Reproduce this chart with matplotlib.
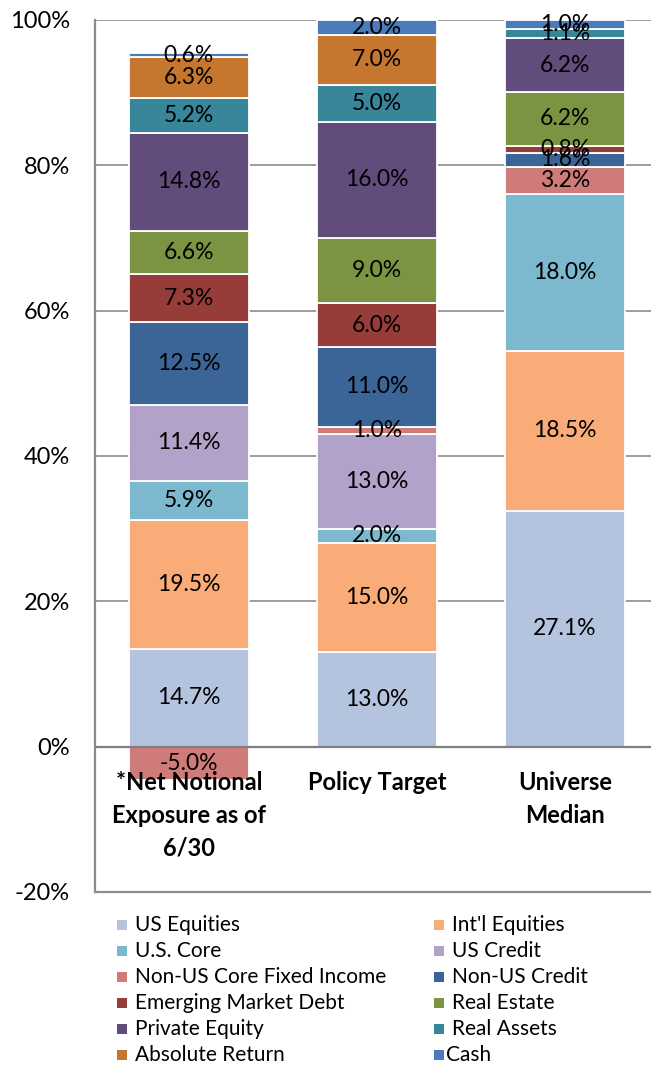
import matplotlib
matplotlib.use("Agg")
import matplotlib.pyplot as plt
from matplotlib.patches import Rectangle
from matplotlib.ticker import FuncFormatter

plt.rcParams['font.family'] = ['Lato', 'DejaVu Sans']

categories = ["*Net Notional\nExposure as of\n6/30", "Policy Target", "Universe\nMedian"]
series = ["US Equities", "Int'l Equities", "U.S. Core", "US Credit",
          "Non-US Core Fixed Income", "Non-US Credit", "Emerging Market Debt",
          "Real Estate", "Private Equity", "Real Assets", "Absolute Return", "Cash"]
colors = ["#B4C4DF", "#F9AB78", "#7CB9CF", "#B2A2C9", "#CF7B79", "#3C6597",
          "#963D3A", "#7A9442", "#624C7C", "#37869A", "#C5772F", "#4B7BBB"]

# labels shown on the chart (reported values, %)
net_labels = [14.7, 19.5, 5.9, 11.4, -5.0, 12.5, 7.3, 6.6, 14.8, 5.2, 6.3, 0.6]
policy_labels = [13.0, 15.0, 2.0, 13.0, 1.0, 11.0, 6.0, 9.0, 16.0, 5.0, 7.0, 2.0]
universe_labels = [27.1, 18.5, 18.0, 0.0, 3.2, 1.6, 0.8, 6.2, 6.2, 1.1, 0.0, 1.0]

# drawn segment heights (%)
net_heights = [13.4, 17.8, 5.4, 10.4, -4.6, 11.4, 6.6, 6.0, 13.5, 4.7, 5.7, 0.5]
policy_heights = [13.0, 15.0, 2.0, 13.0, 1.0, 11.0, 6.0, 9.0, 16.0, 5.0, 7.0, 2.0]
universe_heights = [32.4, 22.1, 21.5, 0.0, 3.8, 1.9, 1.0, 7.4, 7.4, 1.3, 0.0, 1.2]

y_ticks = [-20, 0, 20, 40, 60, 80, 100]

heights = [net_heights, policy_heights, universe_heights]
labels = [net_labels, policy_labels, universe_labels]

fig = plt.figure(figsize=(6.51, 10.67), dpi=100)
ax = fig.add_axes([95/651, 175/1067, 564/651, 872/1067])
ax.set_xlim(-0.5, 2.5)
ax.set_ylim(-20, 100)

bar_w = 0.64
for bi in range(len(categories)):
    pos_base = 0.0
    neg_base = 0.0
    for si in range(len(series)):
        h = heights[bi][si]
        if h == 0:
            continue
        if h >= 0:
            bottom = pos_base
            pos_base += h
        else:
            bottom = neg_base
            neg_base += h
        ax.bar(bi, h, bottom=bottom, width=bar_w, color=colors[si],
               edgecolor='white', linewidth=1.3, zorder=3)
        ax.text(bi, bottom + h / 2, f"{labels[bi][si]:.1f}%", ha='center', va='center',
                fontsize=16.5, color='black', zorder=5)

for bi, cat in enumerate(categories):
    ax.text(bi, -3.3, cat, ha='center', va='top', fontsize=17, fontweight='bold',
            linespacing=1.52, zorder=6)

ax.set_yticks(y_ticks)
ax.yaxis.set_major_formatter(FuncFormatter(lambda v, p: f"{v:.0f}%"))
ax.tick_params(axis='y', length=0, pad=18, labelsize=17)
ax.set_xticks([])
ax.grid(axis='y', color='#8C8C8C', linewidth=1.2, zorder=0)
ax.axhline(0, color='#7F7F7F', linewidth=1.6, zorder=4)
for s in ['top', 'right']:
    ax.spines[s].set_visible(False)
for s in ['left', 'bottom']:
    ax.spines[s].set_color('#8C8C8C')
    ax.spines[s].set_linewidth(1.6)

# legend, row-wise two columns
row_y0 = 925
row_dy = 26
col_x_marker = [117, 434]
col_x_text = [135, 452]
for i, name in enumerate(series):
    r, c = divmod(i, 2)
    yc = row_y0 + r * row_dy
    fig.patches.append(Rectangle((col_x_marker[c] / 651, (1067 - yc - 5) / 1067),
                                 10 / 651, 10 / 1067, transform=fig.transFigure,
                                 facecolor=colors[i], edgecolor='none'))
    tx = col_x_text[c] if name != "Cash" else col_x_text[c] - 6
    fig.text(tx / 651, (1067 - yc) / 1067, name, ha='left', va='center', fontsize=15)

fig.savefig("out.png", dpi=100)
